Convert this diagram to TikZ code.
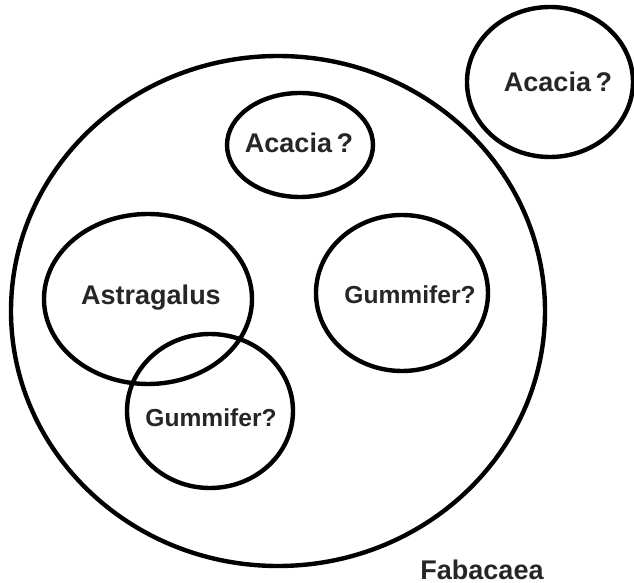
\documentclass[tikz,border=0pt]{standalone}
\usepackage{fontspec}
\setmainfont{Liberation Sans}
\usetikzlibrary{positioning}

\begin{document}
\begin{tikzpicture}[x=0.5pt, y=-0.5pt,
		ring/.style={line width=2.2pt, black},
		genus/.style={font=\bfseries\fontsize{13.5}{15}\selectfont, text=black!85, inner sep=0pt},
		guess/.style={genus, font=\bfseries\fontsize{12.3}{14}\selectfont}]
					\useasboundingbox (0,0) rectangle (634,583);
					\draw[ring] (278,311) ellipse (267 and 255);
					\draw[ring] (550,82) ellipse (83 and 75);
					\draw[ring] (300,145) ellipse (73 and 52);
					\draw[ring] (148,299) ellipse (104 and 85);
					\draw[ring] (210,411) ellipse (83 and 77);
					\draw[ring] (402,293) ellipse (86 and 78);
					\node[genus] (acaciaout) at (558,82) {Acacia\,?};
					\node[genus] (acaciain) at (299,143) {Acacia\,?};
					\node[genus] (astragalus) at (151,298) {Astragalus};
					\node[guess] (gumlow) at (211,418) {Gummifer?};
					\node[guess] (gumright) at (410,295) {Gummifer?};
					\node[genus] (fabacaea) at (482,570) {Fabacaea};
				\end{tikzpicture}
\end{document}
